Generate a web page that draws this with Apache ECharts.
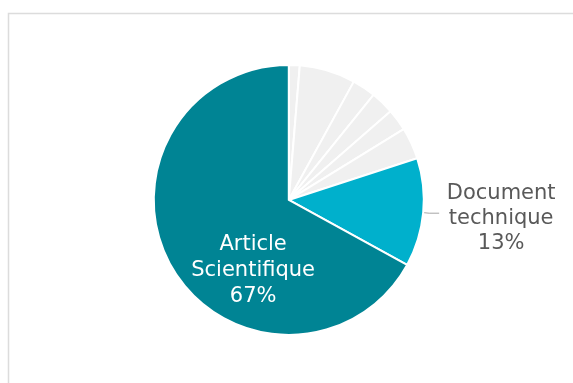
<!DOCTYPE html>
<html>
<head>
<meta charset="utf-8">
<script src="https://cdn.jsdelivr.net/npm/echarts@6/dist/echarts.min.js"></script>
<style>
  html, body { margin: 0; padding: 0; background: #fff; }
  #chart { width: 573px; height: 383px; }
</style>
</head>
<body>
<div id="chart"></div>
<script>
// slices clockwise from 12 o'clock
const names = ['Autre 1', 'Autre 2', 'Autre 3', 'Autre 4', 'Autre 5', 'Autre 6', 'Document technique', 'Article Scientifique'];
const values = [1.3, 6.7, 2.8, 2.8, 2.6, 3.8, 13, 67];
const colors = ['#F0F0F0', '#F0F0F0', '#F0F0F0', '#F0F0F0', '#F0F0F0', '#F0F0F0', '#00B0CC', '#008494'];

const chart = echarts.init(document.getElementById('chart'));

const data = names.map((n, i) => {
  const item = { name: n, value: values[i], itemStyle: { color: colors[i] } };
  if (n === 'Article Scientifique') {
    item.label = {
      show: true,
      position: 'inner',
      color: '#fff',
      fontSize: 21,
      lineHeight: 26,
      align: 'center',
      formatter: p => p.name.replace(' ', '\n') + '\n' + p.value + '%'
    };
  } else if (n === 'Document technique') {
    item.label = {
      show: true,
      position: 'outside',
      color: '#595959',
      fontSize: 21,
      lineHeight: 25,
      formatter: p => p.name.replace(' ', '\n') + '\n' + p.value + '%'
    };
    item.labelLine = { show: true, length: 6, length2: 10, lineStyle: { color: '#A6A6A6', width: 1 } };
  } else {
    item.label = { show: false };
    item.labelLine = { show: false };
  }
  return item;
});

chart.setOption({
  animation: false,
  textStyle: { fontFamily: 'DejaVu Sans' },
  graphic: [{
    type: 'rect',
    left: 6, top: 11,
    shape: { width: 620, height: 420 },
    style: { fill: 'none', stroke: '#DCDCDC', lineWidth: 1.5 },
    silent: true
  }],
  series: [{
    type: 'pie',
    center: ['50.4%', '52.2%'],
    radius: 135,
    startAngle: 90,
    clockwise: true,
    avoidLabelOverlap: false,
    itemStyle: { borderColor: '#fff', borderWidth: 2 },
    labelLayout: p => {
      if (p.dataIndex === 7) return { dx: 25, dy: 35 };
      if (p.dataIndex === 6) return { align: 'center', dx: 57, dy: 5 };
      return {};
    },
    data: data
  }]
});
</script>
</body>
</html>
